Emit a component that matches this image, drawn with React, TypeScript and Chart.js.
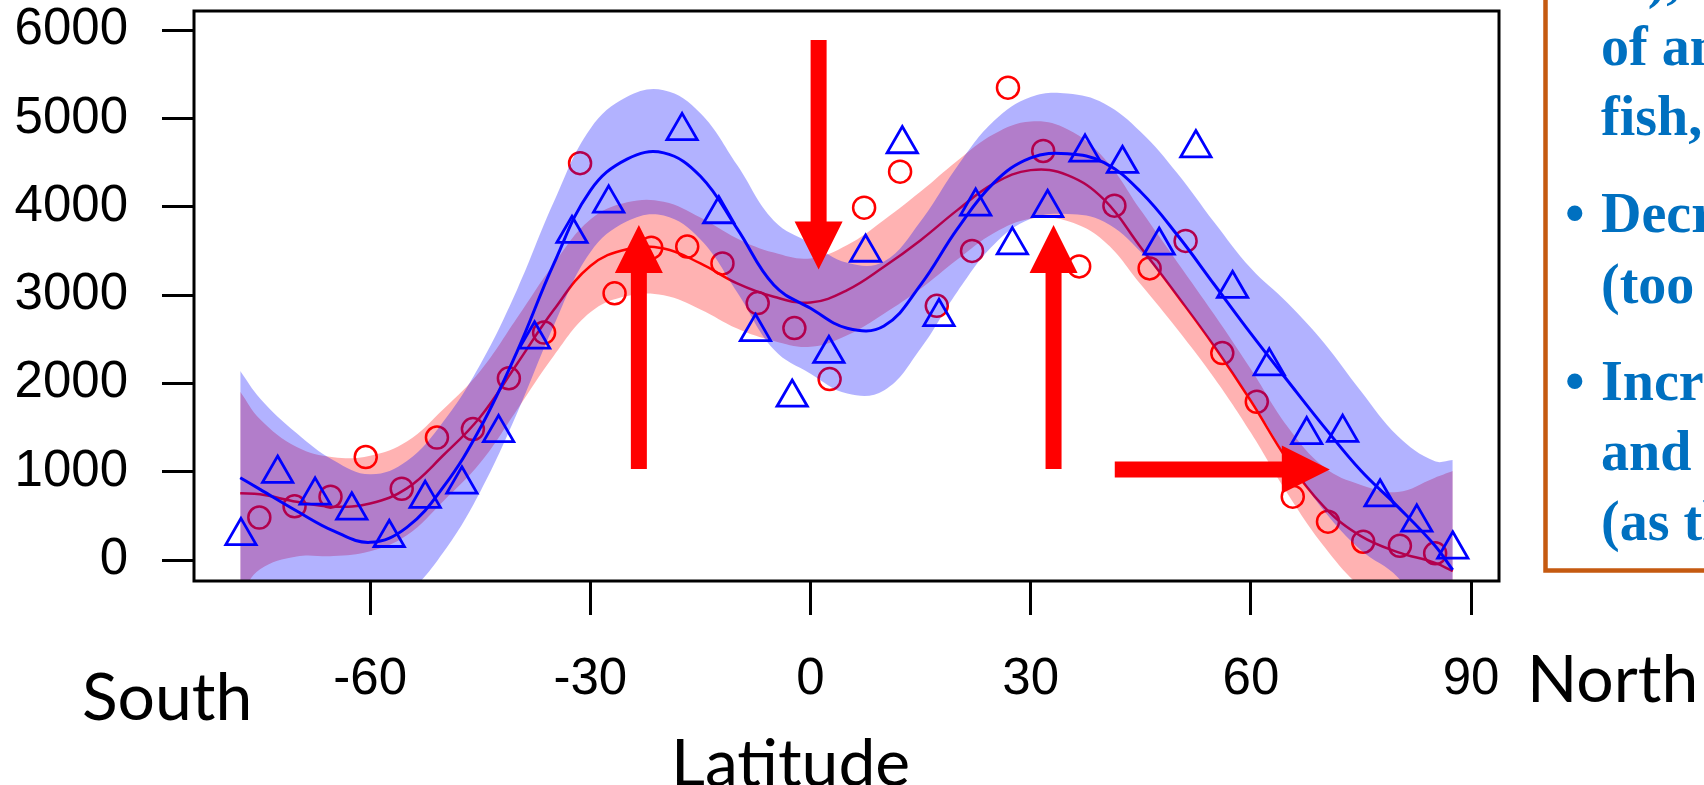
import { useEffect, useRef } from "react";
import { Chart, registerables } from "chart.js";

Chart.register(...registerables);

// ---- data ----
const fitLat = [-77.7, -75, -70, -65, -60, -55, -50, -45, -40, -35, -30, -25, -20, -15, -10, -5, 0, 5, 10, 15, 20, 25, 30, 35, 40, 45, 50, 55, 60, 65, 70, 75, 80, 85, 87.5];

const blueFit = [932, 800, 555, 330, 200, 370, 830, 1494, 2358, 3350, 4184, 4540, 4610, 4345, 3753, 3113, 2850, 2625, 2650, 3116, 3749, 4273, 4553, 4600, 4500, 4167, 3677, 3120, 2563, 2030, 1505, 1010, 605, 170, -113];
const blueUpper = [2139, 1830, 1435, 1130, 970, 1120, 1570, 2214, 3058, 4050, 4884, 5245, 5320, 5060, 4473, 3843, 3590, 3365, 3380, 3836, 4459, 4973, 5243, 5283, 5170, 4847, 4377, 3825, 3303, 2910, 2455, 1910, 1405, 1120, 1132];
const blueLower = [-275, -230, -325, -470, -570, -380, 90, 774, 1658, 2650, 3484, 3835, 3900, 3630, 3033, 2383, 2110, 1885, 1920, 2396, 3039, 3573, 3863, 3917, 3830, 3487, 2977, 2415, 1823, 1150, 555, 110, -195, -780, -1358];

const redFit = [755, 744, 660, 604, 640, 811, 1189, 1620, 2220, 2830, 3330, 3520, 3528, 3358, 3132, 2981, 2915, 3056, 3320, 3622, 3962, 4264, 4415, 4358, 4080, 3540, 2990, 2420, 1800, 1130, 600, 270, 90, -30, -125];
const redUpper = [1905, 1594, 1280, 1164, 1180, 1341, 1709, 2140, 2740, 3350, 3855, 4050, 4058, 3878, 3642, 3481, 3415, 3566, 3850, 4172, 4522, 4824, 4965, 4878, 4550, 3960, 3370, 2780, 2160, 1510, 1050, 850, 770, 930, 1007];
const redLower = [-395, -106, 40, 44, 100, 281, 669, 1100, 1700, 2310, 2805, 2990, 2998, 2838, 2622, 2481, 2415, 2546, 2790, 3072, 3402, 3704, 3865, 3838, 3610, 3120, 2610, 2060, 1440, 750, 150, -310, -590, -990, -1257];

const blueLat = [-77.6, -72.6, -67.5, -62.5, -57.4, -52.5, -47.5, -42.5, -37.6, -32.5, -27.5, -17.5, -12.5, -7.5, -2.5, 2.5, 7.5, 12.5, 17.5, 22.5, 27.5, 32.3, 37.4, 42.5, 47.5, 52.5, 57.5, 62.5, 67.6, 72.5, 77.6, 82.6, 87.5];
const blueVal = [273, 979, 732, 563, 252, 695, 857, 1440, 2499, 3695, 4039, 4859, 3918, 2584, 1841, 2336, 3482, 4711, 2754, 4005, 3566, 3989, 4616, 4488, 3562, 4665, 3072, 2195, 1417, 1442, 711, 426, 121];

const redLat = [-75.1, -70.3, -65.4, -60.6, -55.7, -50.9, -46.0, -41.1, -36.3, -31.4, -26.7, -21.7, -16.8, -12.0, -7.2, -2.2, 2.6, 7.3, 12.2, 17.2, 22.0, 26.9, 31.7, 36.6, 41.4, 46.2, 51.1, 56.1, 60.8, 65.7, 70.5, 75.3, 80.3, 85.1];
const redVal = [481, 608, 717, 1166, 807, 1387, 1483, 2057, 2575, 4494, 3020, 3537, 3549, 3359, 2909, 2626, 2049, 3990, 4398, 2878, 3500, 5349, 4632, 3325, 4013, 3302, 3613, 2343, 1792, 717, 434, 207, 161, 76];

const xTicks = [-60, -30, 0, 30, 60, 90];
const xTickLabels = ["-60", "-30", "0", "30", "60", "90"];
const yTicks = [0, 1000, 2000, 3000, 4000, 5000, 6000];
const yTickLabels = ["0", "1000", "2000", "3000", "4000", "5000", "6000"];

// arrows in data units: tail (from) and tip (to)
const arrowFromLat = [1.1, -23.39, 33.11, 41.45];
const arrowFromVal = [5889, 1031, 1031, 1025];
const arrowToLat = [1.1, -23.39, 33.11, 70.75];
const arrowToVal = [3290, 3794, 3794, 1025];

const panelLines = ["rs),", "of animals", "fish, birds)", "Decreases", "(too hot)", "Increases", "and more", "(as the"];
const panelBullets = [false, false, false, true, false, true, false, false];

const pts = (xs: number[], ys: number[]) => xs.map((v, i) => ({ x: v, y: ys[i] }));

const overlayPlugin = {
  id: "overlay",
  afterDatasetsDraw(chart: any) {
    const { ctx, chartArea: a, scales } = chart;
    const xs = scales.x;
    const ys = scales.y;
    ctx.save();
    ctx.fillStyle = "#FF0000";
    for (let i = 0; i < arrowFromLat.length; i++) {
      const sx = xs.getPixelForValue(arrowFromLat[i]);
      const sy = ys.getPixelForValue(arrowFromVal[i]);
      const tx = xs.getPixelForValue(arrowToLat[i]);
      const ty = ys.getPixelForValue(arrowToVal[i]);
      const dx = tx - sx;
      const dy = ty - sy;
      const len = Math.hypot(dx, dy);
      const ux = dx / len;
      const uy = dy / len;
      const px = -uy;
      const py = ux;
      const hl = 48;
      const hw = 24;
      const sw = 8;
      const bx = tx - ux * hl;
      const by = ty - uy * hl;
      ctx.beginPath();
      ctx.moveTo(sx + px * sw, sy + py * sw);
      ctx.lineTo(bx + px * sw, by + py * sw);
      ctx.lineTo(bx + px * hw, by + py * hw);
      ctx.lineTo(tx, ty);
      ctx.lineTo(bx - px * hw, by - py * hw);
      ctx.lineTo(bx - px * sw, by - py * sw);
      ctx.lineTo(sx - px * sw, sy - py * sw);
      ctx.closePath();
      ctx.fill();
    }
    ctx.strokeStyle = "#000000";
    ctx.lineWidth = 3;
    ctx.strokeRect(a.left, a.top, a.right - a.left, a.bottom - a.top);
    ctx.restore();
  },
  afterDraw(chart: any) {
    const { ctx } = chart;
    ctx.save();
    ctx.fillStyle = "#000000";
    ctx.textBaseline = "alphabetic";
    ctx.textAlign = "left";
    ctx.font = "66px Lato, 'Noto Sans', sans-serif";
    ctx.fillText("South", 82, 720);
    ctx.fillText("North", 1527, 702);
    ctx.fillText("Latitude", 671, 786);

    // side panel
    ctx.strokeStyle = "#C55A11";
    ctx.lineWidth = 4.5;
    ctx.beginPath();
    ctx.moveTo(1545.5, -10);
    ctx.lineTo(1545.5, 570.5);
    ctx.lineTo(1720, 570.5);
    ctx.stroke();

    ctx.fillStyle = "#0070C0";
    ctx.font = "bold 56px 'Liberation Serif', 'Times New Roman', serif";
    const baselines = [-3, 65, 135, 232, 303, 400, 470, 540];
    for (let i = 0; i < panelLines.length; i++) {
      if (panelBullets[i]) ctx.fillText("\u2022", 1565, baselines[i]);
      ctx.fillText(panelLines[i], 1601, baselines[i]);
    }
    ctx.restore();
  },
};

export default function App() {
  const ref = useRef<HTMLCanvasElement | null>(null);
  useEffect(() => {
    if (!ref.current) return;
    const tickFont = { family: "'Liberation Sans', Arial, sans-serif", size: 51 };
    const chart = new Chart(ref.current, {
      type: "scatter",
      data: {
        datasets: [
          {
            label: "blue points",
            data: pts(blueLat, blueVal),
            pointStyle: "triangle",
            pointRadius: 17.5,
            pointBorderWidth: 2.8,
            pointBorderColor: "#0000FF",
            pointBackgroundColor: "rgba(0,0,0,0)",
            showLine: false,
            order: 1,
          } as any,
          {
            label: "blue fit",
            data: pts(fitLat, blueFit),
            showLine: true,
            borderColor: "#0000FF",
            borderWidth: 3,
            pointRadius: 0,
            tension: 0.4,
            fill: false,
            order: 2,
          },
          {
            label: "blue upper",
            data: pts(fitLat, blueUpper),
            showLine: true,
            borderColor: "rgba(0,0,0,0)",
            borderWidth: 0,
            pointRadius: 0,
            tension: 0.4,
            fill: "+1",
            backgroundColor: "rgba(0,0,255,0.3)",
            order: 3,
          },
          {
            label: "blue lower",
            data: pts(fitLat, blueLower),
            showLine: true,
            borderColor: "rgba(0,0,0,0)",
            borderWidth: 0,
            pointRadius: 0,
            tension: 0.4,
            fill: false,
            order: 3,
          },
          {
            label: "red points",
            data: pts(redLat, redVal),
            pointStyle: "circle",
            pointRadius: 11,
            pointBorderWidth: 2.5,
            pointBorderColor: "#FF0000",
            pointBackgroundColor: "rgba(0,0,0,0)",
            showLine: false,
            order: 4,
          } as any,
          {
            label: "red fit",
            data: pts(fitLat, redFit),
            showLine: true,
            borderColor: "#FF0000",
            borderWidth: 2.5,
            pointRadius: 0,
            tension: 0.4,
            fill: false,
            order: 5,
          },
          {
            label: "red upper",
            data: pts(fitLat, redUpper),
            showLine: true,
            borderColor: "rgba(0,0,0,0)",
            borderWidth: 0,
            pointRadius: 0,
            tension: 0.4,
            fill: "+1",
            backgroundColor: "rgba(255,0,0,0.3)",
            order: 6,
          },
          {
            label: "red lower",
            data: pts(fitLat, redLower),
            showLine: true,
            borderColor: "rgba(0,0,0,0)",
            borderWidth: 0,
            pointRadius: 0,
            tension: 0.4,
            fill: false,
            order: 6,
          },
        ],
      },
      options: {
        animation: false,
        responsive: false,
        events: [],
        layout: { autoPadding: false, padding: { top: 11, right: 205, bottom: 0, left: 0 } },
        plugins: { legend: { display: false }, tooltip: { enabled: false } },
        scales: {
          x: {
            type: "linear",
            position: "bottom",
            min: -84.0,
            max: 93.8,
            afterBuildTicks: (s: any) => {
              s.ticks = xTicks.map((v) => ({ value: v }));
            },
            afterFit: (s: any) => {
              s.height = 204;
              s.paddingLeft = 0;
              s.paddingRight = 0;
            },
            ticks: {
              autoSkip: false,
              maxRotation: 0,
              padding: 34,
              color: "#000000",
              font: tickFont,
              callback: (v: any) => xTickLabels[xTicks.indexOf(Number(v))] ?? "",
            },
            grid: { display: true, drawOnChartArea: false, drawTicks: true, tickLength: 34, tickWidth: 3, tickColor: "#000000" },
            border: { display: false },
          },
          y: {
            type: "linear",
            position: "left",
            min: -237.8,
            max: 6217,
            afterBuildTicks: (s: any) => {
              s.ticks = yTicks.map((v) => ({ value: v }));
            },
            afterFit: (s: any) => {
              s.width = 194;
              s.paddingTop = 0;
              s.paddingBottom = 0;
            },
            ticks: {
              autoSkip: false,
              padding: 34,
              color: "#000000",
              font: tickFont,
              callback: (v: any) => yTickLabels[yTicks.indexOf(Number(v))] ?? "",
            },
            grid: { display: true, drawOnChartArea: false, drawTicks: true, tickLength: 32, tickWidth: 3, tickColor: "#000000" },
            border: { display: false },
          },
        },
      },
      plugins: [overlayPlugin],
    });
    return () => chart.destroy();
  }, []);

  return (
    <div style={{ position: "absolute", left: 0, top: 0, width: 1704, height: 785, background: "#ffffff" }}>
      <canvas ref={ref} width={1704} height={785} style={{ display: "block", width: 1704, height: 785 }} />
    </div>
  );
}
